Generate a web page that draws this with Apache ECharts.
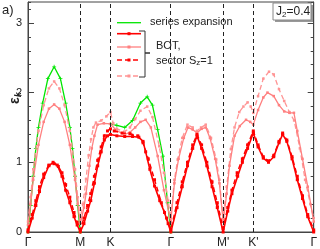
<!DOCTYPE html>
<html><head><meta charset="utf-8">
<script src="https://cdn.jsdelivr.net/npm/echarts/dist/echarts.min.js"></script>
<style>html,body{margin:0;padding:0;background:#fff}#c{width:320px;height:249px}</style>
</head><body><div id="c"></div>
<script>
// high-symmetry points along the path
const tickPositions = [0, 1, 1.577, 2.732, 3.732, 4.309, 5.464];
const tickLabels = ['Γ', 'M', 'K', 'Γ', "M'", "K'", 'Γ'];
const dashedLinePositions = [1, 1.577, 2.732, 3.732, 4.309];
const yTickValues = [0, 1, 2, 3];

// series expansion (green)
const kGreen = [0,0.05,0.1,0.15,0.2,0.28,0.38,0.5,0.62,0.72,0.8,0.85,0.9,0.95,1, 1.3, 1.577,1.7,1.85,2.0,2.15,2.28,2.38,2.48,2.58,2.67,2.732];
const vGreen = [0,0.38,0.8,1.2,1.5,1.85,2.2,2.37,2.2,1.85,1.5,1.2,0.8,0.38,0, null, 1.55,1.53,1.5,1.6,1.85,1.94,1.82,1.47,1.09,0.42,0];

// BOT red solid
const kRed = [0,0.08,0.15,0.22,0.3,0.4,0.48,0.56,0.65,0.72,0.8,0.88,0.94,1,
  1.07,1.14,1.2,1.27,1.333,1.4,1.46,1.52,1.577,
  1.7,1.85,2.0,2.12,2.2,2.25,2.33,2.42,2.52,2.61,2.68,2.732,
  2.85,2.95,3.05,3.15,3.232,3.32,3.42,3.52,3.62,3.732,
  3.82,3.9,4.01,4.1,4.2,4.309,
  4.4,4.5,4.6,4.7,4.8,4.87,4.95,5.05,5.15,5.25,5.35,5.464];
const vRed = [0,0.2,0.38,0.58,0.78,0.95,1.0,0.96,0.8,0.6,0.42,0.22,0.1,0,
  0.12,0.3,0.45,0.7,0.95,1.15,1.32,1.38,1.40,
  1.38,1.37,1.37,1.36,1.3,1.15,0.9,0.66,0.45,0.28,0.12,0,
  0.35,0.65,0.95,1.2,1.38,1.2,0.95,0.65,0.35,0,
  0.3,0.55,0.8,1.0,1.2,1.42,
  1.22,1.06,1.0,1.08,1.28,1.40,1.3,1.05,0.75,0.48,0.22,0];

// BOT red dashed
const kRedD = [0,0.08,0.15,0.22,0.3,0.4,0.5,0.58,0.65,0.72,0.8,0.88,0.94,1,
  1.07,1.14,1.2,1.27,1.333,1.4,1.46,1.52,1.577,
  1.65,1.8,1.95,2.1,2.2,2.3,2.42,2.55,2.65,2.732,
  2.85,2.95,3.05,3.15,3.232,3.32,3.42,3.52,3.62,3.732,
  3.82,3.9,4.0,4.1,4.2,4.309,
  4.4,4.5,4.6,4.7,4.8,4.87,4.95,5.05,5.15,5.25,5.35,5.464];
const vRedD = [0.03,0.25,0.45,0.65,0.83,0.96,0.98,0.94,0.85,0.68,0.5,0.28,0.14,0.03,
  0.2,0.38,0.55,0.8,1.03,1.22,1.38,1.45,1.48,
  1.45,1.42,1.41,1.38,1.28,1.05,0.75,0.42,0.2,0.03,
  0.42,0.72,1.0,1.25,1.4,1.25,1.0,0.72,0.42,0.05,
  0.35,0.6,0.85,1.05,1.25,1.45,
  1.25,1.08,1.02,1.1,1.3,1.42,1.32,1.08,0.8,0.52,0.25,0.03];

// BOT pink solid
const kPink = [0,0.05,0.1,0.2,0.3,0.4,0.5,0.6,0.7,0.8,0.9,0.95,1,
  1.07,1.11,1.175,1.22,1.27,1.33,1.45,1.577,
  1.7,1.85,1.95,2.05,2.15,2.25,2.35,2.48,2.6,2.732,
  2.8,2.88,2.98,3.06,3.15,3.232,3.32,3.4,3.48,3.58,3.66,3.732,
  3.8,3.853,3.95,4.05,4.17,4.25,4.309,
  4.4,4.5,4.58,4.7,4.8,4.9,5.0,5.086,5.15,5.25,5.35,5.464];
const vPink = [0.1,0.4,0.75,1.25,1.58,1.77,1.83,1.77,1.58,1.25,0.75,0.4,0.12,
  0.35,0.55,0.95,1.2,1.38,1.54,1.56,1.55,
  1.45,1.40,1.43,1.5,1.58,1.61,1.5,1.09,0.6,0.15,
  0.7,1.05,1.35,1.5,1.47,1.42,1.48,1.5,1.35,1.05,0.7,0.15,
  0.55,0.95,1.38,1.52,1.61,1.58,1.54,
  1.75,1.93,2.0,1.95,1.82,1.73,1.71,1.71,1.45,1.05,0.65,0.15];

// BOT pink dashed
const kPinkD = [0,0.05,0.1,0.2,0.3,0.4,0.5,0.6,0.7,0.8,0.9,0.95,1,
  1.05,1.11,1.16,1.206,1.25,1.3,1.4,1.5,1.577,
  1.63,1.7,1.85,1.95,2.05,2.15,2.28,2.38,2.51,2.6,2.68,2.732,
  2.8,2.863,2.95,3.05,3.15,3.232,3.31,3.4,3.5,3.6,3.66,3.732,
  3.8,3.88,3.95,4.04,4.12,4.2,4.26,4.309,
  4.4,4.5,4.61,4.7,4.8,4.9,5.0,5.09,5.2,5.3,5.4,5.464];
const vPinkD = [0.15,0.5,0.9,1.45,1.82,2.06,2.16,2.06,1.82,1.45,0.9,0.5,0.2,
  0.4,0.76,1.1,1.33,1.5,1.57,1.6,1.66,1.72,
  1.56,1.48,1.44,1.5,1.62,1.74,1.80,1.65,1.23,0.85,0.45,0.2,
  0.75,1.04,1.35,1.54,1.5,1.45,1.5,1.54,1.35,1.04,0.75,0.2,
  0.65,1.19,1.5,1.72,1.8,1.86,1.8,1.71,
  1.95,2.2,2.30,2.26,2.05,1.88,1.72,1.6,1.2,0.75,0.4,0.2];

const cGreen = '#00e600', cRed = '#ff0000', cPink = '#ff8080', cPinkD = '#ff9494';
const FONT = 'Liberation Sans, Arial, sans-serif';

const zip = (ks, vs) => ks.map((k, i) => [k, vs[i]]);
const plus = 'path://M2,0H3V2H5V3H3V5H2V3H0V2H2Z';

const chart = echarts.init(document.getElementById('c'), null, {renderer: 'canvas'});

function yAx(pos, interval, len, labels, line) {
  return {
    type: 'value', min: 0, max: 3.3, interval: interval, position: pos,
    axisLine: {show: line, lineStyle: {color: '#444', width: 1}},
    axisTick: {show: true, inside: true, length: len, lineStyle: {color: '#444'}},
    axisLabel: {show: labels, fontSize: 11, color: '#222', fontFamily: FONT, margin: 6, showMaxLabel: false,
      formatter: v => (yTickValues.indexOf(Math.round(v)) >= 0 && Math.abs(v - Math.round(v)) < 1e-6) ? String(Math.round(v)) : ''},
    splitLine: {show: false}
  };
}

chart.setOption({
  animation: false,
  grid: {left: 28, right: 5, top: 2, bottom: 16, show: true, borderColor: '#444', borderWidth: 1, backgroundColor: 'transparent'},
  xAxis: {
    type: 'value', min: 0, max: 5.464,
    axisLine: {show: true, lineStyle: {color: '#444'}},
    axisTick: {show: false},
    splitLine: {show: false},
    axisLabel: {
      customValues: tickPositions, fontSize: 12, color: '#222', fontFamily: FONT, margin: 5,
      showMinLabel: true, showMaxLabel: true,
      formatter: v => { const i = tickPositions.findIndex(p => Math.abs(p - v) < 1e-6); return i >= 0 ? tickLabels[i] : ''; }
    }
  },
  yAxis: [
    yAx('left', 1, 6, true, true),
    yAx('left', 0.2, 3, false, false),
    yAx('right', 1, 6, false, true),
    yAx('right', 0.2, 3, false, false)
  ],
  series: [
    {type: 'line', name: 'series expansion', data: zip(kGreen, vGreen), connectNulls: false,
      lineStyle: {color: cGreen, width: 1.3}, itemStyle: {color: cGreen}, symbol: plus, symbolSize: 4, showSymbol: true, z: 2,
      markLine: {silent: true, symbol: 'none', label: {show: false}, animation: false,
        lineStyle: {type: [4, 3], color: '#222', width: 1},
        data: dashedLinePositions.map(x => ({xAxis: x}))}},
    {type: 'line', name: 'pinkD', data: zip(kPinkD, vPinkD),
      lineStyle: {color: cPinkD, width: 1.3, type: [5, 3]}, itemStyle: {color: cPinkD}, symbol: 'rect', symbolSize: 2.5, z: 3},
    {type: 'line', name: 'pink', data: zip(kPink, vPink),
      lineStyle: {color: cPink, width: 1.3}, itemStyle: {color: cPink}, symbol: 'rect', symbolSize: 2.5, z: 4},
    {type: 'line', name: 'redD', data: zip(kRedD, vRedD),
      lineStyle: {color: cRed, width: 1.5, type: [5, 3]}, itemStyle: {color: cRed}, symbol: 'rect', symbolSize: 3, z: 5},
    {type: 'line', name: 'red', data: zip(kRed, vRed),
      lineStyle: {color: cRed, width: 1.6}, itemStyle: {color: cRed}, symbol: 'rect', symbolSize: 3, z: 6}
  ],
  graphic: [
    {type: 'text', left: 2, top: 4, style: {text: 'a)', font: '13px ' + FONT, fill: '#222'}},
    {type: 'text', x: 8, y: 104, rotation: Math.PI / 2,
      style: {text: '{e|ε}{k|k}', rich: {e: {font: 'bold 14px ' + FONT, fill: '#222'}, k: {font: 'bold italic 9px ' + FONT, fill: '#222', verticalAlign: 'bottom', padding: [6, 0, 0, 0]}}}},
    // J2 box
    {type: 'rect', shape: {x: 275, y: 5, width: 38, height: 17}, style: {fill: '#999', stroke: null}, z: 100},
    {type: 'rect', shape: {x: 273, y: 3, width: 38, height: 17}, style: {fill: '#fff', stroke: '#888', lineWidth: 1}, z: 101},
    {type: 'text', x: 276, y: 5, z: 102,
      style: {text: '{a|J}{b|2}{a|=0.4}', rich: {a: {font: '12px ' + FONT, fill: '#222'}, b: {font: '8px ' + FONT, fill: '#222', padding: [6, 0, 0, 0]}}}},
    // legend
    {type: 'line', shape: {x1: 117, y1: 22.7, x2: 141, y2: 22.7}, style: {stroke: cGreen, lineWidth: 1.3}, z: 100},
    {type: 'text', x: 150, y: 16, z: 100, style: {text: 'series expansion', font: '11px ' + FONT, fill: '#222'}},
    {type: 'line', shape: {x1: 117, y1: 33.7, x2: 141, y2: 33.7}, style: {stroke: cRed, lineWidth: 1.6}, z: 100},
    {type: 'rect', shape: {x: 127.5, y: 32.2, width: 3, height: 3}, style: {fill: cRed}, z: 101},
    {type: 'line', shape: {x1: 117, y1: 47, x2: 141, y2: 47}, style: {stroke: cPink, lineWidth: 1.3}, z: 100},
    {type: 'rect', shape: {x: 127.5, y: 45.5, width: 3, height: 3}, style: {fill: cPink}, z: 101},
    {type: 'line', shape: {x1: 117, y1: 60, x2: 141, y2: 60}, style: {stroke: cRed, lineWidth: 1.5, lineDash: [5, 3]}, z: 100},
    {type: 'rect', shape: {x: 127.5, y: 58.5, width: 3, height: 3}, style: {fill: cRed}, z: 101},
    {type: 'line', shape: {x1: 117, y1: 76, x2: 141, y2: 76}, style: {stroke: cPinkD, lineWidth: 1.3, lineDash: [5, 3]}, z: 100},
    {type: 'rect', shape: {x: 127.5, y: 74.5, width: 3, height: 3}, style: {fill: cPinkD}, z: 101},
    {type: 'polyline', shape: {points: [[139, 31], [145, 31], [145, 53], [150, 53], [145, 53], [145, 77], [139, 77]]},
      style: {stroke: '#333', lineWidth: 1, fill: null}, z: 100},
    {type: 'text', x: 156, y: 40, z: 100, style: {text: 'BOT,', font: '11px ' + FONT, fill: '#222'}},
    {type: 'text', x: 156, y: 54, z: 100,
      style: {text: '{a|sector S}{b|z}{a|=1}', rich: {a: {font: '11px ' + FONT, fill: '#222'}, b: {font: '8px ' + FONT, fill: '#222', padding: [5, 0, 0, 0]}}}}
  ]
});
</script></body></html>
